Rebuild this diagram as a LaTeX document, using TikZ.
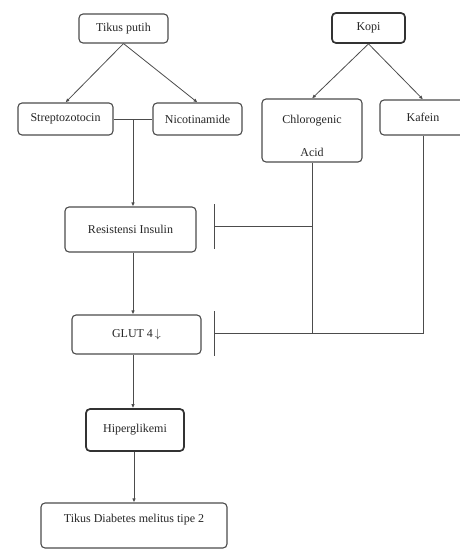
\documentclass[tikz,border=0pt]{standalone}
\usepackage{fontspec}
\setmainfont{Liberation Serif}
\usetikzlibrary{arrows.meta, positioning, calc}
\definecolor{linegray}{rgb}{0.3,0.3,0.3}
\definecolor{boxgray}{rgb}{0.3,0.3,0.3}
\tikzset{basic/.style={draw=boxgray,rounded corners=4pt,line width=1.1pt,fill=white,text=black!85,font=\fontsize{12}{14}\selectfont,align=center,inner sep=2pt}}
\tikzset{boldbox/.style={basic,draw=black!80,line width=1.7pt}}
\tikzset{link/.style={draw=linegray,line width=0.8pt,-{Latex[length=4pt,width=3.5pt]}}}
\tikzset{plain/.style={draw=linegray,line width=0.8pt,-}}
\tikzset{inhibit/.style={draw=linegray,line width=0.9pt,-{Bar[width=45pt,line width=1pt]}}}

\begin{document}
\begin{tikzpicture}[x=1pt,y=-1pt]
\useasboundingbox (0,0) rectangle (459,550);

% Define source nodes
\node[basic,minimum width=89pt,minimum height=29pt] at (123.5,28.5) (tikus) {Tikus putih};
\node[boldbox,minimum width=73pt,minimum height=30pt] at (368.5,28) (kopi) {Kopi};

% Define second row
\node[basic,minimum width=95pt,minimum height=32pt] at (65.5,119) (strep) {Streptozotocin};
\node[basic,minimum width=89pt,minimum height=32pt] at (197.5,119) (nico) {Nicotinamide};
\node[basic,minimum width=100pt,minimum height=63pt] at (312,130.5) (chloro) {\rule{0pt}{19pt}Chlorogenic\\[19pt]Acid};
\node[basic,minimum width=86pt,minimum height=35pt] at (423,117.5) (kafein) {Kafein};

% Define main chain
\node[basic,minimum width=131pt,minimum height=45pt] at (130.5,229.5) (resist) {Resistensi Insulin};
\node[basic,minimum width=129pt,minimum height=39pt] at (136.5,334.5) (glut) {GLUT 4\,$\downarrow$};
\node[boldbox,minimum width=98pt,minimum height=42pt] at (135,430) (hiper) {Hiperglikemi};
\node[basic,minimum width=186pt,text height=15pt,text depth=22pt,inner ysep=4pt] at (134,525.5) (diab) {Tikus Diabetes melitus tipe 2};

% Define junctions and bar ends
\coordinate (jn) at ($(strep.east)!0.5!(nico.west)$);
\coordinate (inhR) at (214,226);
\coordinate (inhG) at (214,333);

% Define paths
\path[link] (tikus.south) -- (strep.north);
\path[link] (tikus.south) -- (nico.north);
\path[link] (kopi.south) -- (chloro.north);
\path[link] (kopi.south) -- (kafein.north);

\path[plain] (strep.east) -- (nico.west);
\path[link] (jn) -- (jn |- resist.north);
\path[link] (resist.south -| jn) -- (jn |- glut.north);
\path[link] (glut.south -| jn) -- (jn |- hiper.north);
\path[link] (hiper.south -| diab.north) -- (diab.north);

\path[plain] (chloro.south) -- (chloro.south |- inhG);
\path[inhibit] (chloro.south |- inhR) -- (inhR);
\path[inhibit] (kafein.south) |- (inhG);
\end{tikzpicture}
\end{document}
